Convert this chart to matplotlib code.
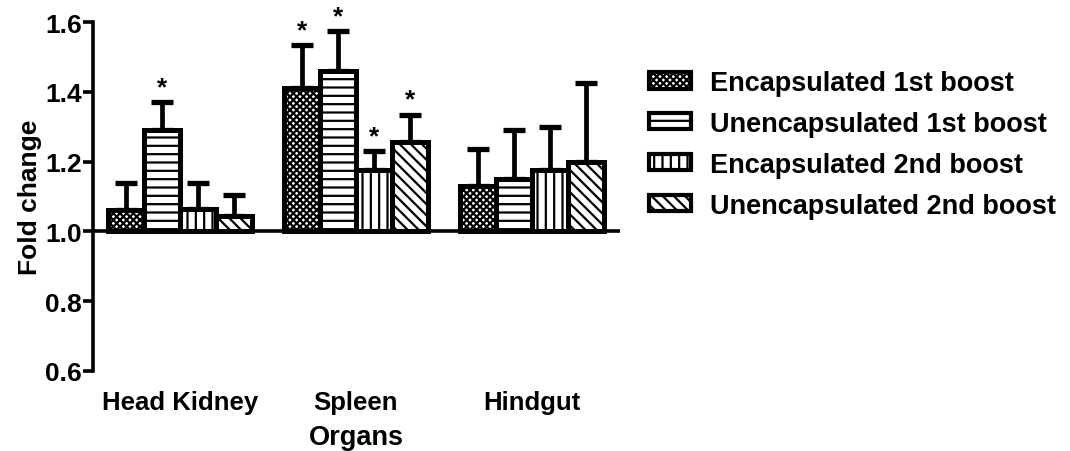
import numpy as np
import matplotlib
matplotlib.use('Agg')
import matplotlib.pyplot as plt
from matplotlib.patches import Patch

plt.rcParams['font.family'] = ['Liberation Sans', 'DejaVu Sans']
plt.rcParams['font.weight'] = 'bold'
plt.rcParams['hatch.linewidth'] = 1.6

# data
organs = ['Head Kidney', 'Spleen', 'Hindgut']
series = ['Encapsulated 1st boost', 'Unencapsulated 1st boost',
          'Encapsulated 2nd boost', 'Unencapsulated 2nd boost']
enc_1st = [1.06, 1.41, 1.13]
unenc_1st = [1.29, 1.46, 1.15]
enc_2nd = [1.065, 1.175, 1.175]
unenc_2nd = [1.045, 1.255, 1.20]
enc_1st_err = [0.08, 0.125, 0.105]
unenc_1st_err = [0.08, 0.115, 0.14]
enc_2nd_err = [0.075, 0.055, 0.125]
unenc_2nd_err = [0.06, 0.08, 0.225]
enc_1st_sig = [False, True, False]
unenc_1st_sig = [True, True, False]
enc_2nd_sig = [False, True, False]
unenc_2nd_sig = [False, True, False]

values = [enc_1st, unenc_1st, enc_2nd, unenc_2nd]
errors = [enc_1st_err, unenc_1st_err, enc_2nd_err, unenc_2nd_err]
signif = [enc_1st_sig, unenc_1st_sig, enc_2nd_sig, unenc_2nd_sig]
hatches = ['xxxxx', '--', '||', '\\\\\\']
baseline = 1.0

fig = plt.figure(figsize=(10.7, 4.52), dpi=100)
ax = fig.add_axes([0.087, 0.177, 0.492, 0.772])

x = np.arange(len(organs))
width = 0.205
for i in range(len(series)):
    pos = x + (i - 1.5) * width
    heights = np.array(values[i]) - baseline
    ax.bar(pos, heights, width, bottom=baseline, facecolor='white',
           edgecolor='black', linewidth=3.6, hatch=hatches[i], zorder=3)
    ax.errorbar(pos, values[i], yerr=[np.zeros(len(organs)), errors[i]],
                fmt='none', ecolor='black', elinewidth=3.4, capsize=8,
                capthick=3.8, zorder=2)
    for p, v, e, s in zip(pos, values[i], errors[i], signif[i]):
        if s:
            ax.text(p, v + e + 0.008, '*', ha='center', va='bottom',
                    fontsize=19, fontweight='bold')

ax.axhline(baseline, color='black', linewidth=2.6, zorder=4)

ax.set_xlim(-0.494, 2.5)
ax.set_ylim(0.6, 1.6)
ax.set_yticks([0.6, 0.8, 1.0, 1.2, 1.4, 1.6])
ax.set_yticklabels(['0.6', '0.8', '1.0', '1.2', '1.4', '1.6'])
ax.set_xticks(x)
ax.set_xticklabels(organs)

for sp in ['top', 'right', 'bottom']:
    ax.spines[sp].set_visible(False)
ax.spines['left'].set_linewidth(2.6)
ax.tick_params(axis='y', length=7, width=2.6, labelsize=19, pad=1)
ax.tick_params(axis='x', length=0, labelsize=18.5, pad=14)
for lab in ax.get_xticklabels() + ax.get_yticklabels():
    lab.set_fontweight('bold')

ax.set_ylabel('Fold change', fontsize=19, fontweight='bold', labelpad=2)
ax.set_xlabel('Organs', fontsize=19.5, fontweight='bold', labelpad=7)

handles = [Patch(facecolor='white', edgecolor='black', linewidth=3,
                 hatch=h, label=s) for h, s in zip(hatches, series)]
fig.legend(handles=handles, loc='upper left', bbox_to_anchor=(0.607, 0.843),
           frameon=False, handlelength=1.55, handleheight=0.55,
           handletextpad=0.7, labelspacing=0.55, borderpad=0,
           borderaxespad=0, prop={'weight': 'bold', 'size': 19.5})

fig.savefig('out.png', dpi=100)
